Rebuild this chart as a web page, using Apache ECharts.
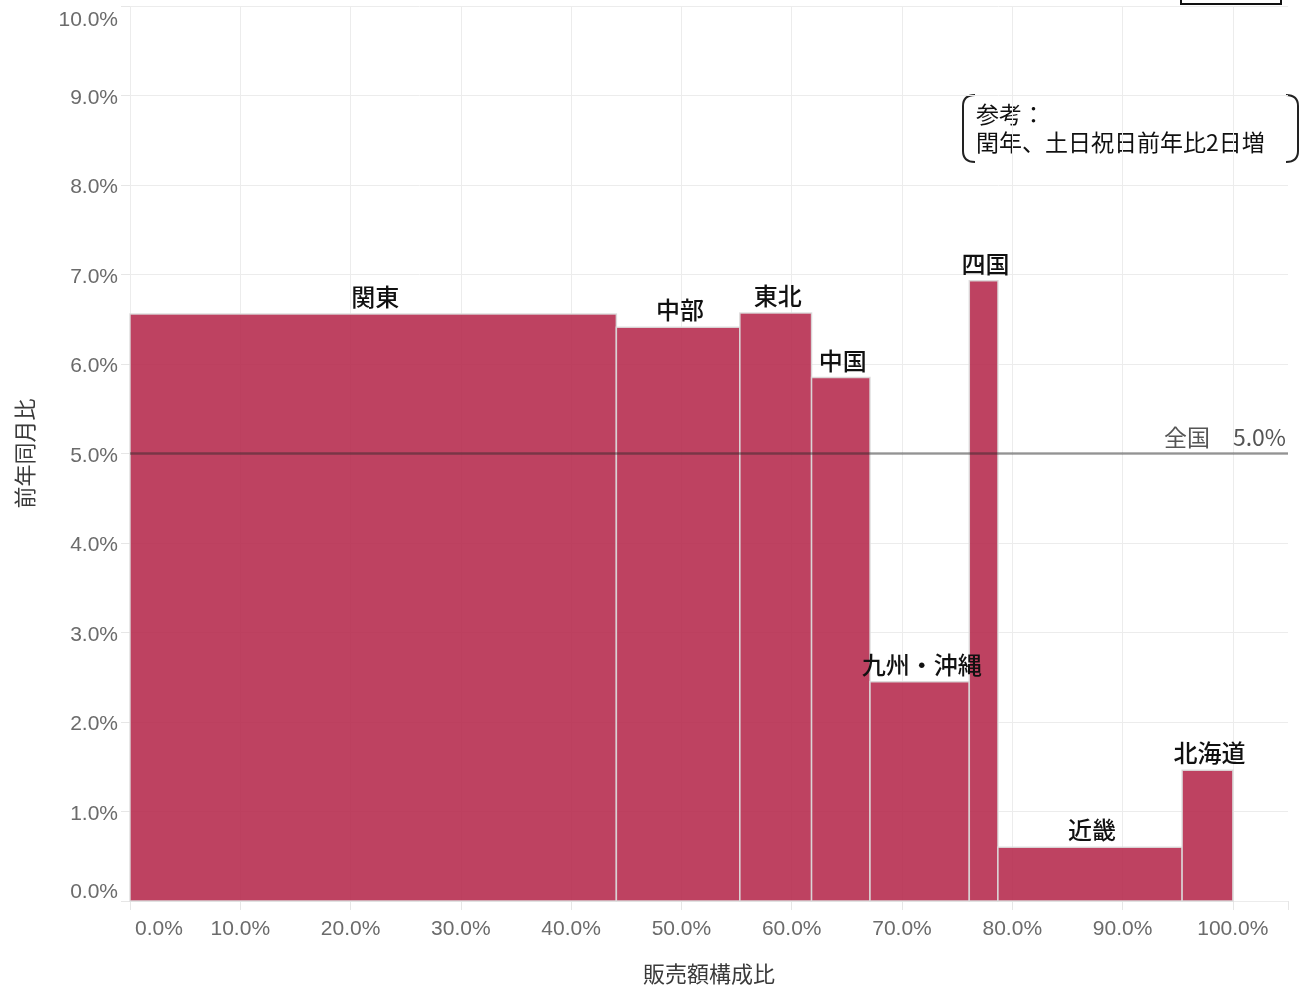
<!DOCTYPE html>
<html>
<head>
<meta charset="utf-8">
<script src="https://cdn.jsdelivr.net/npm/echarts@6/dist/echarts.min.js"></script>
<style>
  html, body { margin: 0; padding: 0; background: #fff; }
  #chart { width: 1307px; height: 986px; }
</style>
</head>
<body>
<div id="chart"></div>
<script>
// regions, share of sales (%) and year-on-year growth (%)
const regions = ['関東', '中部', '東北', '中国', '九州・沖縄', '四国', '近畿', '北海道'];
const shares = [44.1, 11.2, 6.5, 5.3, 9.0, 2.6, 16.7, 4.6];
const growth = [6.56, 6.41, 6.57, 5.85, 2.45, 6.93, 0.60, 1.46];
const nationalAvg = 5.0;
const noteLines = ['参考：', '閏年、土日祝日前年比2日増'];

const cjk = '"Noto Sans CJK JP", "Noto Sans", sans-serif';
const num = '"Liberation Sans", Arial, sans-serif';
const tickText = { fontSize: 21, color: '#6b6b6b', fontFamily: num };

// cumulative start / end of each bar on the x axis
let acc = 0;
const barData = shares.map((s, i) => {
  const row = [acc, acc + s, growth[i]];
  acc += s;
  return row;
});

// bracket pieces around the note (left side, then mirrored right side)
function bracket(x, dir) {
  const ln = { stroke: '#222', lineWidth: 2, fill: 'none' };
  return [
    { type: 'bezierCurve', shape: { x1: x + dir * 12, y1: 95, cpx1: x, cpy1: 95, x2: x, y2: 106 }, style: ln },
    { type: 'line', shape: { x1: x, y1: 106, x2: x, y2: 151 }, style: ln },
    { type: 'bezierCurve', shape: { x1: x, y1: 151, cpx1: x, cpy1: 162, x2: x + dir * 12, y2: 162 }, style: ln },
  ];
}

const myChart = echarts.init(document.getElementById('chart'));

const option = {
  animation: false,
  grid: {
    left: 130,
    right: 19,
    top: 6,
    bottom: 85,
    containLabel: false,
    outerBoundsMode: 'none',
  },
  xAxis: {
    type: 'value',
    min: 0,
    max: 105,
    interval: 10,
    name: '販売額構成比',
    nameLocation: 'middle',
    nameGap: 62,
    nameTextStyle: { fontSize: 22, color: '#3a3a3a', fontFamily: cjk },
    axisLine: { show: false },
    axisTick: { show: true, length: 9, lineStyle: { color: '#e6e6e6' } },
    splitLine: { show: true, showMaxLine: false, lineStyle: { color: '#ececec' } },
    axisLabel: {
      margin: 18,
      ...tickText,
      formatter: (v) => {
        if (v > 100) return '';
        if (v === 0) return '{first|0.0%}';
        return v.toFixed(1) + '%';
      },
      rich: {
        first: { ...tickText, padding: [0, 0, 0, 58] },
      },
    },
  },
  yAxis: {
    type: 'value',
    min: 0,
    max: 10,
    interval: 1,
    name: '前年同月比',
    nameLocation: 'middle',
    nameGap: 94,
    nameRotate: 90,
    nameTextStyle: { fontSize: 22, color: '#3a3a3a', fontFamily: cjk },
    axisLine: { show: false },
    axisTick: { show: true, length: 9, lineStyle: { color: '#e6e6e6' } },
    splitLine: { show: true, lineStyle: { color: '#ececec' } },
    axisLabel: {
      margin: 12,
      ...tickText,
      formatter: (v) => {
        if (v === 0) return '{low|0.0%}';
        if (v === 10) return '{high|10.0%}';
        return '{n|' + v.toFixed(1) + '%}';
      },
      rich: {
        n: { ...tickText, padding: [5, 0, 0, 0] },
        low: { ...tickText, padding: [0, 0, 18, 0] },
        high: { ...tickText, padding: [28, 0, 0, 0] },
      },
    },
  },
  series: [
    {
      type: 'custom',
      data: barData,
      encode: { x: [0, 1], y: 2 },
      renderItem: (params, api) => {
        const p0 = api.coord([api.value(0), api.value(2)]);
        const p1 = api.coord([api.value(1), 0]);
        return {
          type: 'rect',
          shape: { x: p0[0], y: p0[1], width: p1[0] - p0[0], height: p1[1] - p0[1] },
          style: { fill: 'rgb(183,45,80)', opacity: 0.9, stroke: '#dcdcdc', lineWidth: 1.5 },
        };
      },
      markLine: {
        silent: true,
        symbol: 'none',
        lineStyle: { color: 'rgba(40,40,40,0.45)', width: 2.5, type: 'solid' },
        label: {
          position: 'insideEndTop',
          formatter: '全国　5.0%',
          fontSize: 23,
          color: '#555',
          fontFamily: cjk,
          distance: [2, 5],
        },
        data: [{ yAxis: nationalAvg }],
      },
      z: 2,
    },
    {
      type: 'custom',
      data: barData,
      encode: { x: [0, 1], y: 2 },
      renderItem: (params, api) => {
        const p = api.coord([(api.value(0) + api.value(1)) / 2, api.value(2)]);
        return {
          type: 'text',
          x: p[0] + 2,
          y: p[1] - 5,
          style: {
            text: regions[params.dataIndex],
            fill: '#111',
            fontSize: 24,
            fontFamily: cjk,
            fontWeight: 500,
            align: 'center',
            verticalAlign: 'bottom',
          },
        };
      },
      z: 5,
    },
  ],
  graphic: [
    ...bracket(963, 1),
    ...bracket(1298, -1),
    {
      type: 'text',
      left: 976,
      top: 100,
      style: {
        text: noteLines.join('\n'),
        fontSize: 23,
        lineHeight: 28,
        fill: '#111',
        fontFamily: cjk,
      },
    },
    {
      type: 'rect',
      shape: { x: 1181, y: -10, width: 100, height: 14 },
      style: { fill: '#fff', stroke: '#111', lineWidth: 2 },
    },
  ],
};

myChart.setOption(option);
</script>
</body>
</html>
